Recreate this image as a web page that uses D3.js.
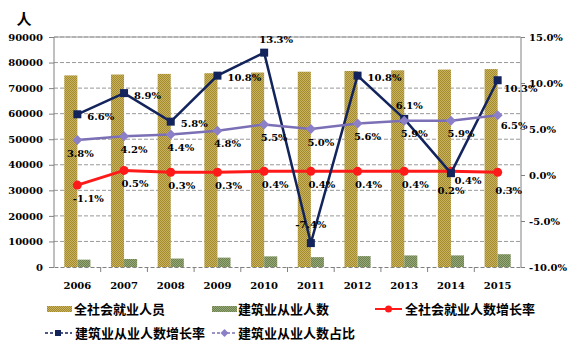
<!DOCTYPE html>
<html>
<head>
<meta charset="utf-8">
<script src="https://cdn.jsdelivr.net/npm/d3@7"></script>
<style>
  body { margin: 0; background: #fff; }
  .axis text { font-family: "DejaVu Serif", serif; font-weight: bold; font-size: 10px; fill: #000; }
  .lbl { font-family: "DejaVu Serif", serif; font-weight: bold; font-size: 10px; fill: #000; }
  .leg { font-family: "Noto Sans CJK SC", sans-serif; font-weight: bold; font-size: 13px; fill: #000; }
</style>
</head>
<body>
<svg id="chart" width="579" height="353"></svg>
<script>
// data
var years = ["2006", "2007", "2008", "2009", "2010", "2011", "2012", "2013", "2014", "2015"];
var totalEmployed = [74978, 75321, 75564, 75828, 76105, 76420, 76704, 76977, 77253, 77451];
var constructionEmployed = [2878, 3134, 3315, 3673, 4161, 3852, 4268, 4529, 4537, 5004];
var totalGrowth = [-1.1, 0.5, 0.3, 0.3, 0.4, 0.4, 0.4, 0.4, 0.4, 0.3];
var constructionGrowth = [6.6, 8.9, 5.8, 10.8, 13.3, -7.4, 10.8, 6.1, 0.2, 10.3];
var constructionShare = [3.8, 4.2, 4.4, 4.8, 5.5, 5.0, 5.6, 5.9, 5.9, 6.5];
var leftTicks = [0, 10000, 20000, 30000, 40000, 50000, 60000, 70000, 80000, 90000];
var rightTicks = [-10, -5, 0, 5, 10, 15];
var seriesNames = ["全社会就业人员", "建筑业从业人数", "全社会就业人数增长率", "建筑业从业人数增长率", "建筑业从业人数占比"];

// where each point label sits (r = right, a = above, b = below)
var navyPos = ["r", "r", "r", "r", "a", "a", "r", "a", "b", "rb"];

var svg = d3.select("#chart"),
  margin = {top: 37, right: 58, bottom: 86, left: 54},
  width = +svg.attr("width") - margin.left - margin.right,
  height = +svg.attr("height") - margin.top - margin.bottom,
  g = svg.append("g").attr("transform", "translate(" + margin.left + "," + margin.top + ")");

// textured fills for the bars
var defs = svg.append("defs");
function checker(id, c1, c2) {
  var p = defs.append("pattern").attr("id", id)
    .attr("width", 2).attr("height", 2).attr("patternUnits", "userSpaceOnUse");
  p.append("rect").attr("width", 2).attr("height", 2).attr("fill", c1);
  p.append("rect").attr("width", 1).attr("height", 1).attr("fill", c2);
  p.append("rect").attr("x", 1).attr("y", 1).attr("width", 1).attr("height", 1).attr("fill", c2);
}
checker("gold", "#a38b2c", "#c9b262");
checker("green", "#6d814f", "#96a878");

var x = d3.scaleBand().domain(years).range([0, width]);
var x1 = d3.scaleBand().domain(["total", "cons"])
  .range([x.bandwidth() * 0.22, x.bandwidth() * 0.78]);
var y = d3.scaleLinear().domain([0, 90000]).range([height, 0]);
var y2 = d3.scaleLinear().domain([-10, 15]).range([height, 0]);

function cx(i) { return x(years[i]) + x.bandwidth() / 2; }
// plain hyphen for negatives, like the original
function pct(d) { return d.toFixed(1) + "%"; }

// gridlines
g.append("g")
  .attr("class", "grid")
  .selectAll("line")
  .data(leftTicks.slice(1))
  .enter().append("line")
  .attr("x1", 0).attr("x2", width)
  .attr("y1", function (d) { return y(d); })
  .attr("y2", function (d) { return y(d); })
  .attr("stroke", "#999")
  .attr("stroke-dasharray", "4,2");

// bars
g.selectAll(".barT")
  .data(totalEmployed)
  .enter().append("rect")
  .attr("class", "barT")
  .attr("x", function (d, i) { return x(years[i]) + x1("total"); })
  .attr("y", function (d) { return y(d); })
  .attr("width", x1.bandwidth())
  .attr("height", function (d) { return height - y(d); })
  .attr("fill", "url(#gold)");

g.selectAll(".barC")
  .data(constructionEmployed)
  .enter().append("rect")
  .attr("class", "barC")
  .attr("x", function (d, i) { return x(years[i]) + x1("cons"); })
  .attr("y", function (d) { return y(d); })
  .attr("width", x1.bandwidth())
  .attr("height", function (d) { return height - y(d); })
  .attr("fill", "url(#green)");

// axes
var leftAxis = g.append("g").attr("class", "axis")
  .call(d3.axisLeft(y).tickValues(leftTicks).tickSize(5).tickPadding(6)
    .tickFormat(function (d) { return String(d); }));
leftAxis.selectAll("line, path").attr("stroke", "#808080");
leftAxis.select(".domain").attr("d", "M0," + height + "V0");

var rightAxis = g.append("g").attr("class", "axis")
  .attr("transform", "translate(" + width + ",0)")
  .call(d3.axisRight(y2).tickValues(rightTicks).tickSize(4).tickPadding(4)
    .tickFormat(pct));
rightAxis.selectAll("line, path").attr("stroke", "#808080");
rightAxis.select(".domain").attr("d", "M0," + height + "V0");

var bottomAxis = g.append("g").attr("class", "axis")
  .attr("transform", "translate(0," + height + ")")
  .call(d3.axisBottom(x).tickSize(0).tickPadding(15));
bottomAxis.select(".domain").attr("stroke", "#808080").attr("stroke-dasharray", "4,2");
bottomAxis.selectAll(".bound")
  .data(years.slice(1))
  .enter().append("line")
  .attr("class", "bound")
  .attr("x1", function (d) { return x(d); })
  .attr("x2", function (d) { return x(d); })
  .attr("y1", 0).attr("y2", 5)
  .attr("stroke", "#808080");

// top border line
g.append("line").attr("x1", 0).attr("x2", width).attr("y1", 0).attr("y2", 0).attr("stroke", "#999");

// unit label
svg.append("text")
  .attr("x", 24).attr("y", 25)
  .attr("text-anchor", "middle")
  .style("font-family", "Noto Sans CJK SC")
  .style("font-weight", "bold")
  .style("font-size", "15px")
  .text("人");

// lines
var line = d3.line()
  .x(function (d, i) { return cx(i); })
  .y(function (d) { return y2(d); });

function drawSeries(data, color, w) {
  g.append("path")
    .datum(data)
    .attr("fill", "none")
    .attr("stroke", color)
    .attr("stroke-width", w)
    .attr("d", line);
}

// red: total growth
drawSeries(totalGrowth, "#ff1a1a", 3);
g.selectAll(".ptR")
  .data(totalGrowth)
  .enter().append("circle")
  .attr("class", "ptR")
  .attr("cx", function (d, i) { return cx(i); })
  .attr("cy", function (d) { return y2(d); })
  .attr("r", 4.5)
  .attr("fill", "#ff1a1a");

// navy: construction growth
drawSeries(constructionGrowth, "#13245c", 2.5);
g.selectAll(".ptN")
  .data(constructionGrowth)
  .enter().append("rect")
  .attr("class", "ptN")
  .attr("x", function (d, i) { return cx(i) - 4; })
  .attr("y", function (d) { return y2(d) - 4; })
  .attr("width", 8).attr("height", 8)
  .attr("fill", "#13245c");

// purple: construction share
drawSeries(constructionShare, "#7b70b6", 2.5);
g.selectAll(".ptP")
  .data(constructionShare)
  .enter().append("path")
  .attr("class", "ptP")
  .attr("transform", function (d, i) { return "translate(" + cx(i) + "," + y2(d) + ")"; })
  .attr("d", "M0,-5L5,0L0,5L-5,0Z")
  .attr("fill", "#8b80c8");

// point labels
g.selectAll(".lblR")
  .data(totalGrowth)
  .enter().append("text")
  .attr("class", "lbl")
  .attr("text-anchor", "middle")
  .attr("x", function (d, i) { return cx(i) + (i == 8 ? 17 : 11); })
  .attr("y", function (d, i) { return y2(d) + (i == 8 ? 9 : i == 9 ? 18 : 13); })
  .attr("dy", "0.35em")
  .text(pct);

g.selectAll(".lblP")
  .data(constructionShare)
  .enter().append("text")
  .attr("class", "lbl")
  .attr("text-anchor", function (d, i) { return i == 9 ? "start" : "middle"; })
  .attr("x", function (d, i) { return cx(i) + (i == 9 ? 3 : i == 0 ? 3 : 10); })
  .attr("y", function (d, i) { return y2(d) + (i == 9 ? 10 : 13); })
  .attr("dy", "0.35em")
  .text(pct);

g.selectAll(".lblN")
  .data(constructionGrowth)
  .enter().append("text")
  .attr("class", "lbl")
  .attr("text-anchor", function (d, i) { return navyPos[i] == "r" || navyPos[i] == "rb" ? "start" : "middle"; })
  .attr("x", function (d, i) {
    var p = navyPos[i];
    if (p == "r") return cx(i) + 10;
    if (p == "rb") return cx(i) + 6;
    if (i == 4) return cx(i) + 12;
    if (i == 7) return cx(i) + 5;
    return cx(i);
  })
  .attr("y", function (d, i) {
    var p = navyPos[i];
    if (p == "r") return y2(d) + 2;
    if (p == "rb") return y2(d) + 8;
    if (p == "b") return y2(d) + 17;
    if (i == 5) return y2(d) - 19;
    return y2(d) - 13;
  })
  .attr("dy", "0.35em")
  .text(pct);

// legend
var legend = svg.append("g");
function legText(xp, yp, t) {
  legend.append("text").attr("class", "leg").attr("x", xp).attr("y", yp).attr("dy", "0.35em").text(t);
}
legend.append("rect").attr("x", 47).attr("y", 306).attr("width", 25).attr("height", 6).attr("fill", "url(#gold)");
legText(74, 309, seriesNames[0]);
legend.append("rect").attr("x", 212).attr("y", 306).attr("width", 25).attr("height", 6).attr("fill", "url(#green)");
legText(238, 309, seriesNames[1]);
legend.append("line").attr("x1", 375).attr("x2", 402).attr("y1", 309).attr("y2", 309)
  .attr("stroke", "#ff1a1a").attr("stroke-width", 2);
legend.append("circle").attr("cx", 388.5).attr("cy", 309).attr("r", 3.5).attr("fill", "#ff1a1a");
legText(405, 309, seriesNames[2]);
legend.append("line").attr("x1", 45).attr("x2", 72).attr("y1", 333).attr("y2", 333)
  .attr("stroke", "#13245c").attr("stroke-width", 1.5).attr("stroke-dasharray", "3,2");
legend.append("rect").attr("x", 55).attr("y", 330).attr("width", 6).attr("height", 6).attr("fill", "#13245c");
legText(75, 333, seriesNames[3]);
legend.append("line").attr("x1", 212).attr("x2", 237).attr("y1", 333).attr("y2", 333)
  .attr("stroke", "#7b70b6").attr("stroke-width", 1.5).attr("stroke-dasharray", "3,2");
legend.append("path").attr("transform", "translate(224.5,333)").attr("d", "M0,-4L4,0L0,4L-4,0Z").attr("fill", "#8b80c8");
legText(238, 333, seriesNames[4]);
</script>
</body>
</html>
